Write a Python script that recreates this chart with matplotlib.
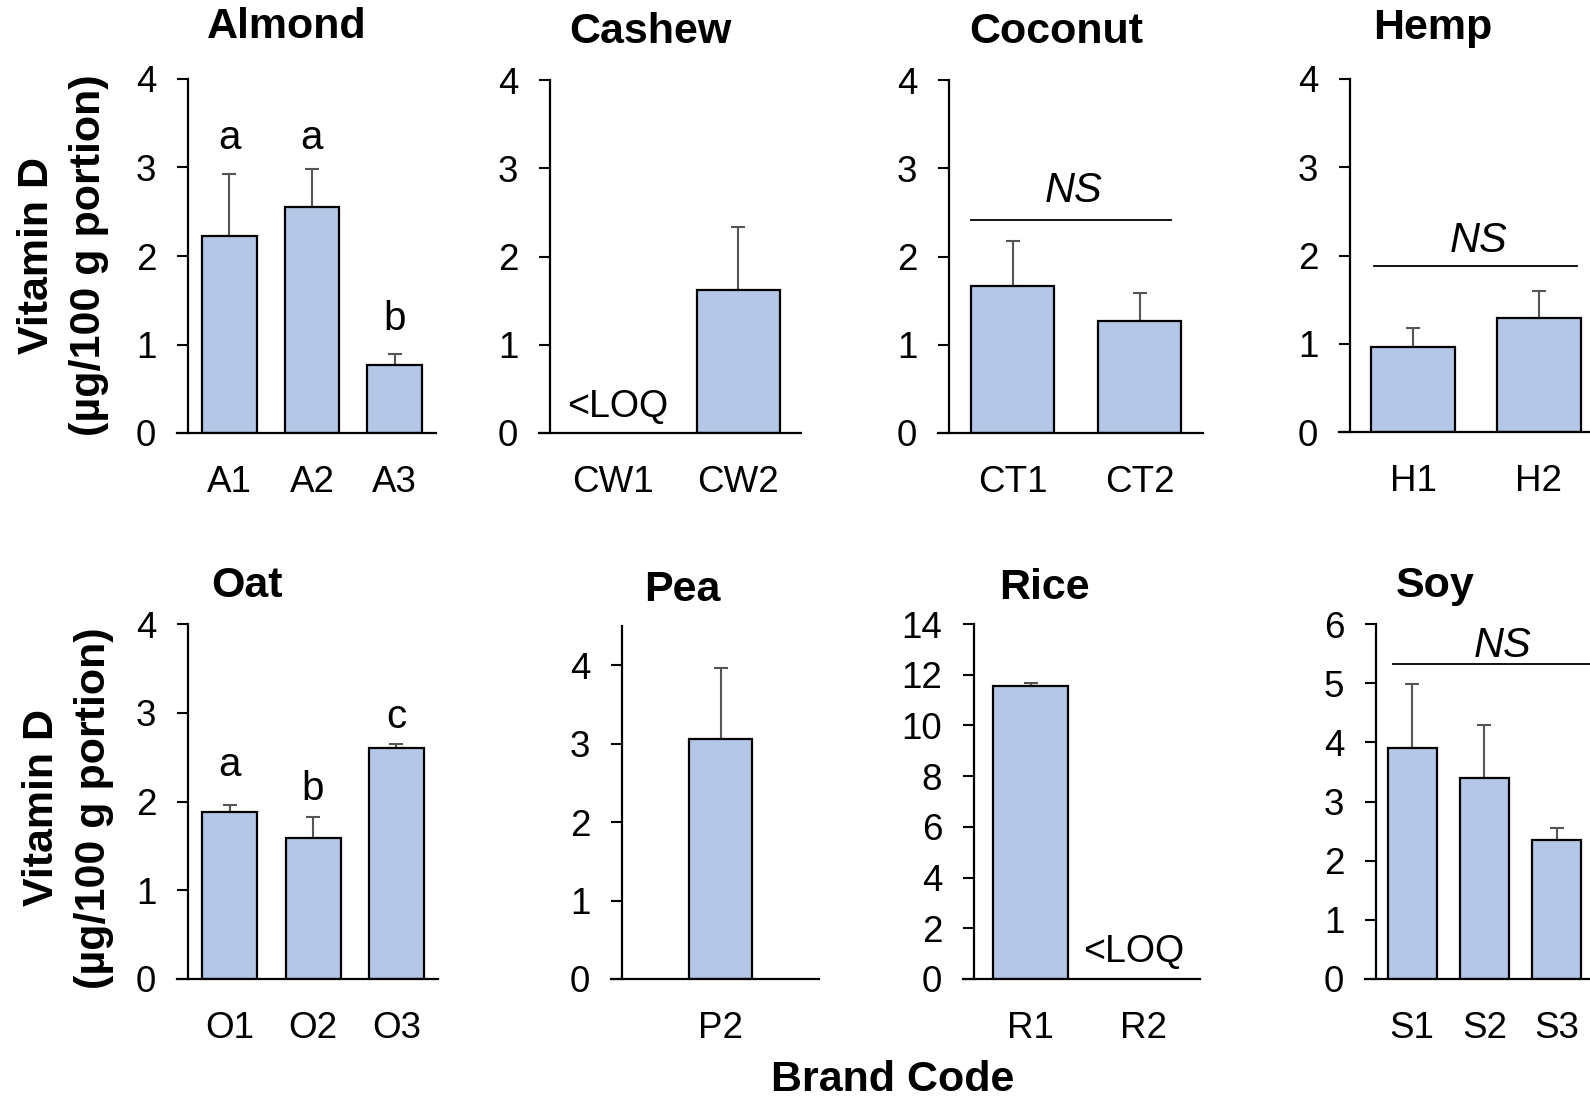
import matplotlib
matplotlib.use('Agg')
import matplotlib.pyplot as plt
import numpy as np

plt.rcParams['font.family'] = ['Liberation Sans', 'DejaVu Sans']

# ---- data (means and upper SD, ug/100 g portion) ----
almond_codes = ['A1', 'A2', 'A3']
almond_means = [2.23, 2.55, 0.77]
almond_err = [0.70, 0.43, 0.12]
almond_letters = ['a', 'a', 'b']

cashew_codes = ['CW1', 'CW2']
cashew_means = [0.0, 1.62]
cashew_err = [0.0, 0.71]

coconut_codes = ['CT1', 'CT2']
coconut_means = [1.67, 1.27]
coconut_err = [0.51, 0.32]

hemp_codes = ['H1', 'H2']
hemp_means = [0.96, 1.29]
hemp_err = [0.22, 0.31]

oat_codes = ['O1', 'O2', 'O3']
oat_means = [1.88, 1.59, 2.60]
oat_err = [0.08, 0.23, 0.05]
oat_letters = ['a', 'b', 'c']

pea_codes = ['P2']
pea_means = [3.06]
pea_err = [0.90]

rice_codes = ['R1', 'R2']
rice_means = [11.55, 0.0]
rice_err = [0.14, 0.0]

soy_codes = ['S1', 'S2', 'S3']
soy_means = [3.91, 3.40, 2.35]
soy_err = [1.07, 0.90, 0.20]

W, H = 1590, 1098
fig = plt.figure(figsize=(W / 100, H / 100), dpi=100)

BAR_COLOR = '#B4C7E7'
ERR_COLOR = '#555555'
TICK_FS = 26.5
TICK_LEN = 11  # px
BOLD_FS = 31


def add_panel(box, codes, means, errs, ylim, yticks, xlim, width):
    # box given in pixels: left spine x, right end x, top y, bottom y
    x0, x1, ytop, ybot = box
    ax = fig.add_axes([x0 / W, 1 - ybot / H, (x1 - x0) / W, (ybot - ytop) / H])
    xs = np.arange(len(codes))
    show = [m > 0 for m in means]
    ax.bar(xs[show], np.array(means)[show], width=width, color=BAR_COLOR,
           edgecolor='black', linewidth=1.6, zorder=2)
    for x, m, e, s in zip(xs, means, errs, show):
        if s and e > 0:
            ax.errorbar(x, m, yerr=[[0], [e]], fmt='none', ecolor=ERR_COLOR,
                        elinewidth=1.5, capsize=5, capthick=1.5, zorder=1)
    ax.set_xlim(*xlim)
    ax.set_ylim(*ylim)
    ax.set_yticks(yticks)
    ax.set_xticks(xs)
    ax.set_xticklabels(codes)
    for s in ['top', 'right', 'bottom']:
        ax.spines[s].set_visible(False)
    ax.spines['left'].set_linewidth(1.6)
    ax.tick_params(axis='y', length=TICK_LEN * 0.72, width=1.5, pad=15,
                   labelsize=TICK_FS)
    ax.tick_params(axis='x', length=0, pad=23, labelsize=TICK_FS)
    # Excel style baseline reaching out to the tick ends
    ext = TICK_LEN / (x1 - x0)
    ax.axhline(0, xmin=-ext, xmax=1, color='black', lw=1.6, clip_on=False, zorder=3)
    return ax


def fig_title(text, x, y):
    fig.text(x / W, 1 - y / H, text, ha='center', va='center',
             fontsize=BOLD_FS, fontweight='bold')


def ns_bar(ax, x_from, x_to, y_line, y_text, x_text):
    ax.plot([x_from, x_to], [y_line, y_line], color='black', lw=1.3, clip_on=False)
    ax.text(x_text, y_text, 'NS', ha='center', va='baseline', fontsize=30,
            style='italic')


# ---- top row ----
ax = add_panel((188, 436, 79, 433), almond_codes, almond_means, almond_err,
               (0, 4), range(0, 5), (-0.5, 2.5), 0.66)
for x, (lt, yb) in enumerate(zip(almond_letters, [3.21, 3.21, 1.16])):
    ax.text(x, yb, lt, ha='center', va='baseline', fontsize=29)
fig_title('Almond', 287, 27)

ax = add_panel((550, 801, 80, 433), cashew_codes, cashew_means, cashew_err,
               (0, 4), range(0, 5), (-0.5, 1.5), 0.66)
ax.text(0.04, 0.18, '<LOQ', ha='center', va='baseline', fontsize=27)
fig_title('Cashew', 650, 32)

ax = add_panel((949, 1203, 80, 433), coconut_codes, coconut_means, coconut_err,
               (0, 4), range(0, 5), (-0.5, 1.5), 0.66)
ns_bar(ax, -0.33, 1.25, 2.41, 2.62, 0.48)
fig_title('Coconut', 1056, 32)

ax = add_panel((1350, 1602, 79, 432), hemp_codes, hemp_means, hemp_err,
               (0, 4), range(0, 5), (-0.5, 1.5), 0.67)
ns_bar(ax, -0.31, 1.30, 1.88, 2.04, 0.52)
fig_title('Hemp', 1433, 28)

# ---- bottom row ----
ax = add_panel((188, 438, 624, 979), oat_codes, oat_means, oat_err,
               (0, 4), range(0, 5), (-0.5, 2.5), 0.66)
for x, (lt, yb) in enumerate(zip(oat_letters, [2.29, 2.02, 2.83])):
    ax.text(x, yb, lt, ha='center', va='baseline', fontsize=29)
fig_title('Oat', 247, 586)

ax = add_panel((622, 819, 626, 979), pea_codes, pea_means, pea_err,
               (0, 4.5), range(0, 5), (-0.5, 0.5), 0.315)
fig_title('Pea', 682, 590)

ax = add_panel((974, 1200, 624, 979), rice_codes, rice_means, rice_err,
               (0, 14), range(0, 15, 2), (-0.5, 1.5), 0.67)
ax.text(0.91, 0.67, '<LOQ', ha='center', va='baseline', fontsize=27)
fig_title('Rice', 1044, 588)

ax = add_panel((1376, 1665, 624, 979), soy_codes, soy_means, soy_err,
               (0, 6), range(0, 7), (-0.5, 3.5), 0.68)
ns_bar(ax, -0.26, 2.76, 5.32, 5.44, 1.25)
fig_title('Soy', 1435, 586)

# ---- shared labels ----
ylab = 'Vitamin D\n(\u00b5g/100 g portion)'
fig.text(63 / W, 1 - 255 / H, ylab, rotation=90, ha='center', va='center',
         fontsize=BOLD_FS, fontweight='bold', linespacing=1.36, multialignment='center')
fig.text(68 / W, 1 - 808 / H, ylab, rotation=90, ha='center', va='center',
         fontsize=BOLD_FS, fontweight='bold', linespacing=1.36, multialignment='center')
fig.text(893 / W, 1 - 1080 / H, 'Brand Code', ha='center', va='center',
         fontsize=BOLD_FS, fontweight='bold')

fig.savefig('out.png', dpi=100)
